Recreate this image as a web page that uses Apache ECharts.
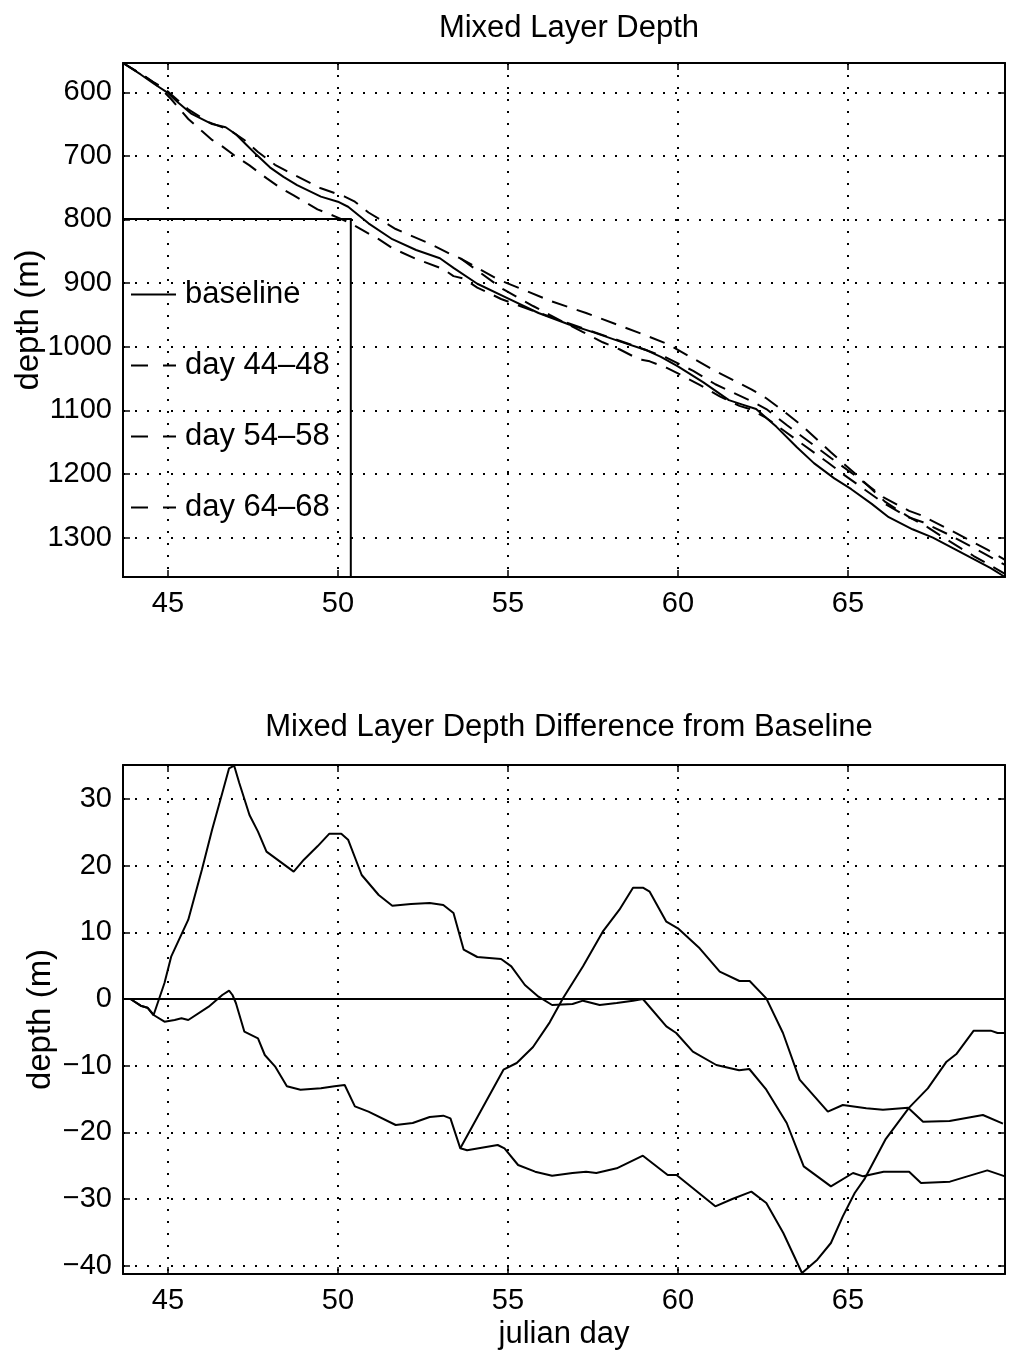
<!DOCTYPE html>
<html><head><meta charset="utf-8">
<script src="https://cdn.jsdelivr.net/npm/echarts@6/dist/echarts.min.js"></script>
<style>html,body{margin:0;padding:0;background:#fff}#c{width:1013px;height:1353px}</style>
</head><body><div id="c"></div>
<script>
// ---------- tick labels ----------
const xTicks = [45, 50, 55, 60, 65];
const depthTicks = [600, 700, 800, 900, 1000, 1100, 1200, 1300];
const diffTicks = [-40, -30, -20, -10, 0, 10, 20, 30];

// ---------- top panel: mixed layer depth (m) ----------
const baseDays = [43.68,44.2,44.6,45.0,45.3,45.7,46.3,46.7,47.0,47.3,47.6,48.0,48.4,48.8,49.5,50.0,50.3,50.9,51.6,52.3,53.0,53.4,54.1,55.0,55.9,56.8,57.5,58.2,59.1,59.5,60.0,60.75,61.5,61.9,62.3,62.9,63.5,64.0,64.6,65.1,65.7,66.2,66.9,67.5,68.1,68.7,69.2,69.62];
const baseDepth = [554,572,587,601,616,634,650,655,666,682,698,718,733,746,764,772,780,806,831,848,861,876,901,924,947,965,977,990,1006,1016,1031,1056,1084,1091,1098,1126,1158,1183,1207,1224,1247,1268,1287,1300,1317,1334,1348,1362];

const d4448Days = [43.68,44.2,44.6,44.9,45.1,45.6,46.0,46.3,46.6,46.95,47.4,47.9,48.3,48.7,49.4,50.0,50.3,50.7,51.2,51.6,52.3,53.1,53.4,53.7,54.1,54.8,55.5,56.3,57.2,58.2,59.0,59.66,60.45,61.1,62.1,62.6,63.2,63.7,64.5,65.15,66.05,66.8,67.15,68.0,69.1,69.62];
const d4448Depth = [554,571,585,600,611,642,661,675,685,699,715,735,750,762,784,797,804,816,831,845,862,878,889,893,907,925,939,954,971,989,1004,1017,1038,1059,1084,1098,1123,1143,1175,1200,1237,1258,1265,1288,1319,1335];

const d5458Days = [53.6,54.87,55.74,56.23,56.62,57.21,57.79,58.28,58.68,58.97,59.17,59.66,60.0,60.64,61.23,61.81,62.11,62.6,63.09,63.58,64.41,64.85,66.03,66.77,67.21,67.99,68.97,69.62];
const d5458Depth = [861,910,936,950,961,977,993,1004,1015,1021,1023,1033,1042,1060,1078,1093,1098,1112,1131,1150,1182,1200,1245,1268,1276,1296,1324,1343];

const d6468Days = [43.68,44.2,44.6,44.9,45.6,46.2,46.8,47.25,47.65,48.15,48.5,49.5,50.2,50.5,50.9,51.7,52.7,53.3,53.6,54.7,55.3,56.3,57.3,58.2,59.0,59.7,61.1,62.16,62.6,63.1,63.65,64.5,65.2,66.1,66.8,67.35,67.9,68.7,69.62];
const d6468Depth = [554,571,585,594,627,647,659,675,694,714,724,751,764,772,789,815,838,854,861,894,907,929,947,965,981,996,1038,1067,1081,1101,1124,1166,1199,1244,1268,1284,1303,1329,1357];

// ---------- bottom panel: difference from baseline (m) ----------
const zeroDays = [43.68, 69.62];
const zeroDiff = [0, 0];

const diffADays = [43.68,43.9,44.2,44.4,44.58,44.9,45.1,45.6,46.0,46.3,46.6,46.8,46.95,47.1,47.4,47.65,47.9,48.3,48.7,49.0,49.4,49.75,50.1,50.3,50.7,51.2,51.6,52.15,52.7,53.1,53.4,53.7,54.1,54.8,55.1,55.5,55.9,56.3,56.9,57.21,57.7,58.2,58.68,58.97,59.66,59.95,60.44,61.13,61.8,62.1,62.6,63.2,63.7,64.5,65.15,65.45,66.05,66.8,67.15,68.0,69.1,69.62];
const diffA = [0,0,-1.0,-1.3,-2.4,2.4,6.4,11.9,19.4,25.4,30.9,34.6,35.0,32.4,27.6,25.1,22.1,20.6,19.1,20.9,22.9,24.8,24.8,23.9,18.6,15.6,14.0,14.25,14.4,14.1,12.9,7.4,6.3,6.0,4.9,2.1,0.35,-0.9,-0.75,-0.25,-0.9,-0.6,-0.25,0,-4.1,-5.1,-7.9,-9.9,-10.7,-10.5,-13.6,-18.6,-25.1,-28.1,-26.1,-26.6,-25.9,-25.9,-27.6,-27.4,-25.7,-26.6];

const diffBDays = [53.6,54.87,55.26,55.74,56.23,56.62,57.21,57.79,58.28,58.68,58.97,59.17,59.66,60.0,60.64,61.23,61.81,62.11,62.6,63.09,63.58,64.41,64.85,65.54,66.03,66.77,67.21,67.99,68.97,69.56];
const diffB = [-22.4,-10.6,-9.6,-7.2,-3.5,0.1,4.9,10.1,13.4,16.7,16.7,16.1,11.6,10.6,7.6,4.1,2.7,2.7,0.1,-5.1,-12.1,-16.9,-15.9,-16.4,-16.6,-16.3,-18.4,-18.3,-17.4,-18.7];

const diffCDays = [43.68,43.9,44.2,44.4,44.58,44.9,45.2,45.4,45.6,46.2,46.6,46.8,46.9,47.0,47.25,47.65,47.85,48.15,48.5,48.9,49.5,49.9,50.2,50.5,50.9,51.7,52.2,52.7,53.1,53.31,53.6,53.8,54.7,54.9,55.3,55.8,56.3,56.9,57.3,57.6,58.2,58.97,59.7,59.96,61.1,61.6,62.16,62.6,63.1,63.65,64.1,64.5,64.85,65.2,65.5,66.1,66.8,67.35,67.9,68.2,68.7,69.2,69.4,69.62];
const diffC = [0,0,-1.0,-1.3,-2.4,-3.4,-3.15,-2.9,-3.15,-1.15,0.6,1.25,0.6,-0.6,-4.9,-5.9,-8.4,-10.1,-13.1,-13.6,-13.4,-13.1,-12.9,-16.1,-16.9,-18.9,-18.6,-17.7,-17.5,-17.9,-22.4,-22.7,-21.9,-22.4,-24.9,-25.9,-26.5,-26.1,-25.9,-26.1,-25.4,-23.5,-26.4,-26.4,-31.1,-30.0,-28.9,-30.6,-35.1,-41.1,-39.1,-36.6,-32.6,-29.1,-26.9,-21.1,-16.3,-13.4,-9.4,-8.2,-4.75,-4.75,-5.1,-5.1];

const pairs = (xs, ys) => xs.map((x, i) => [x, ys[i]]);

const FONT = '"Liberation Sans", Arial, Helvetica, sans-serif';
const BLACK = '#000';
const X_MIN = 43.68, X_MAX = 69.62;

function xAxisCfg(gi, pos, withLabels, name) {
  return {
    type: 'value', gridIndex: gi, position: pos, min: X_MIN, max: X_MAX,
    minInterval: 5, maxInterval: 5,
    axisLine: { show: true, onZero: false, lineStyle: { color: BLACK, width: 2 } },
    axisTick: { show: true, inside: true, length: 7, lineStyle: { color: BLACK, width: 1.5 } },
    axisLabel: { show: withLabels, margin: 12, color: BLACK, fontSize: 29, fontFamily: FONT,
      showMinLabel: false, showMaxLabel: false,
      formatter: v => xTicks.includes(Math.round(v * 1000) / 1000) ? String(Math.round(v)) : '' },
    splitLine: { show: pos === 'bottom', lineStyle: { color: BLACK, width: 2, type: [2, 10] } },
    name: name || '', nameLocation: 'middle', nameGap: 45, nameMoveOverlap: false,
    nameTextStyle: { color: BLACK, fontSize: 31, fontFamily: FONT }
  };
}
function yAxisCfg(gi, pos, withLabels, min, max, step, ticks, inverse, gap) {
  return {
    type: 'value', gridIndex: gi, position: pos, min: min, max: max, inverse: inverse,
    minInterval: step, maxInterval: step,
    axisLine: { show: true, onZero: false, lineStyle: { color: BLACK, width: 2 } },
    axisTick: { show: true, inside: true, length: 7, lineStyle: { color: BLACK, width: 1.5 } },
    axisLabel: { show: withLabels, margin: 11, color: BLACK, fontSize: 29, fontFamily: FONT,
      showMinLabel: false, showMaxLabel: false,
      formatter: v => ticks.includes(Math.round(v)) && Math.abs(v - Math.round(v)) < 1e-6 ? String(Math.round(v)).replace('-', '\u2212') : '' },
    splitLine: { show: pos === 'left', lineStyle: { color: BLACK, width: 2, type: [2, 10] } },
    name: pos === 'left' ? 'depth (m)' : '', nameLocation: 'middle', nameRotate: 90,
    nameGap: gap || 70, nameMoveOverlap: false,
    nameTextStyle: { color: BLACK, fontSize: 33, fontFamily: FONT }
  };
}

function line(name, xi, yi, data, dashed) {
  return {
    type: 'line', name: name, xAxisIndex: xi, yAxisIndex: yi, data: data,
    symbol: 'none', showSymbol: false, smooth: false, silent: true,
    lineStyle: { color: BLACK, width: 2, type: dashed ? [16, 10] : 'solid' },
    itemStyle: { color: BLACK }, z: 3
  };
}

const legendDash = { type: [17, 15], width: 2, color: BLACK };

const chart = echarts.init(document.getElementById('c'), null, { renderer: 'canvas' });
chart.setOption({
  animation: false,
  backgroundColor: '#fff',
  title: [
    { text: 'Mixed Layer Depth', left: 564, top: 8, textAlign: 'center',
      textStyle: { fontSize: 31, fontWeight: 'normal', color: BLACK, fontFamily: FONT } },
    { text: 'Mixed Layer Depth Difference from Baseline', left: 564, top: 707, textAlign: 'center',
      textStyle: { fontSize: 31, fontWeight: 'normal', color: BLACK, fontFamily: FONT } }
  ],
  grid: [
    { left: 123, top: 63, width: 882, height: 514, containLabel: false, outerBoundsMode: 'none' },
    { left: 123, top: 765, width: 882, height: 509, containLabel: false, outerBoundsMode: 'none' }
  ],
  xAxis: [
    xAxisCfg(0, 'bottom', true),
    xAxisCfg(0, 'top', false),
    xAxisCfg(1, 'bottom', true, 'julian day'),
    xAxisCfg(1, 'top', false)
  ],
  yAxis: [
    yAxisCfg(0, 'left', true, 554, 1362, 100, depthTicks, true, 78),
    yAxisCfg(0, 'right', false, 554, 1362, 100, depthTicks, true),
    yAxisCfg(1, 'left', true, -41.25, 35.1, 10, diffTicks, false, 66),
    yAxisCfg(1, 'right', false, -41.25, 35.1, 10, diffTicks, false)
  ],
  legend: {
    show: true, orient: 'vertical', left: 123, top: 219,
    data: [
      { name: 'baseline', lineStyle: { type: 'solid', width: 2, color: BLACK } },
      { name: 'day 44\u201348', lineStyle: legendDash },
      { name: 'day 54\u201358', lineStyle: legendDash },
      { name: 'day 64\u201368', lineStyle: legendDash }
    ],
    itemWidth: 45, itemHeight: 2, itemGap: 40,
    padding: [60, 21, 54, 7],
    itemStyle: { opacity: 0, color: 'rgba(0,0,0,0)', borderWidth: 0 },
    borderColor: BLACK, borderWidth: 2, borderRadius: 0, backgroundColor: 'transparent',
    selectedMode: false,
    textStyle: { color: BLACK, fontSize: 31, fontFamily: FONT, lineHeight: 31, padding: [0, 0, 0, 4] }
  },
  series: [
    line('baseline', 0, 0, pairs(baseDays, baseDepth), false),
    line('day 44\u201348', 0, 0, pairs(d4448Days, d4448Depth), true),
    line('day 54\u201358', 0, 0, pairs(d5458Days, d5458Depth), true),
    line('day 64\u201368', 0, 0, pairs(d6468Days, d6468Depth), true),
    line('baseline difference', 2, 2, pairs(zeroDays, zeroDiff), false),
    line('difference 44\u201348', 2, 2, pairs(diffADays, diffA), false),
    line('difference 54\u201358', 2, 2, pairs(diffBDays, diffB), false),
    line('difference 64\u201368', 2, 2, pairs(diffCDays, diffC), false)
  ]
});
</script></body></html>
